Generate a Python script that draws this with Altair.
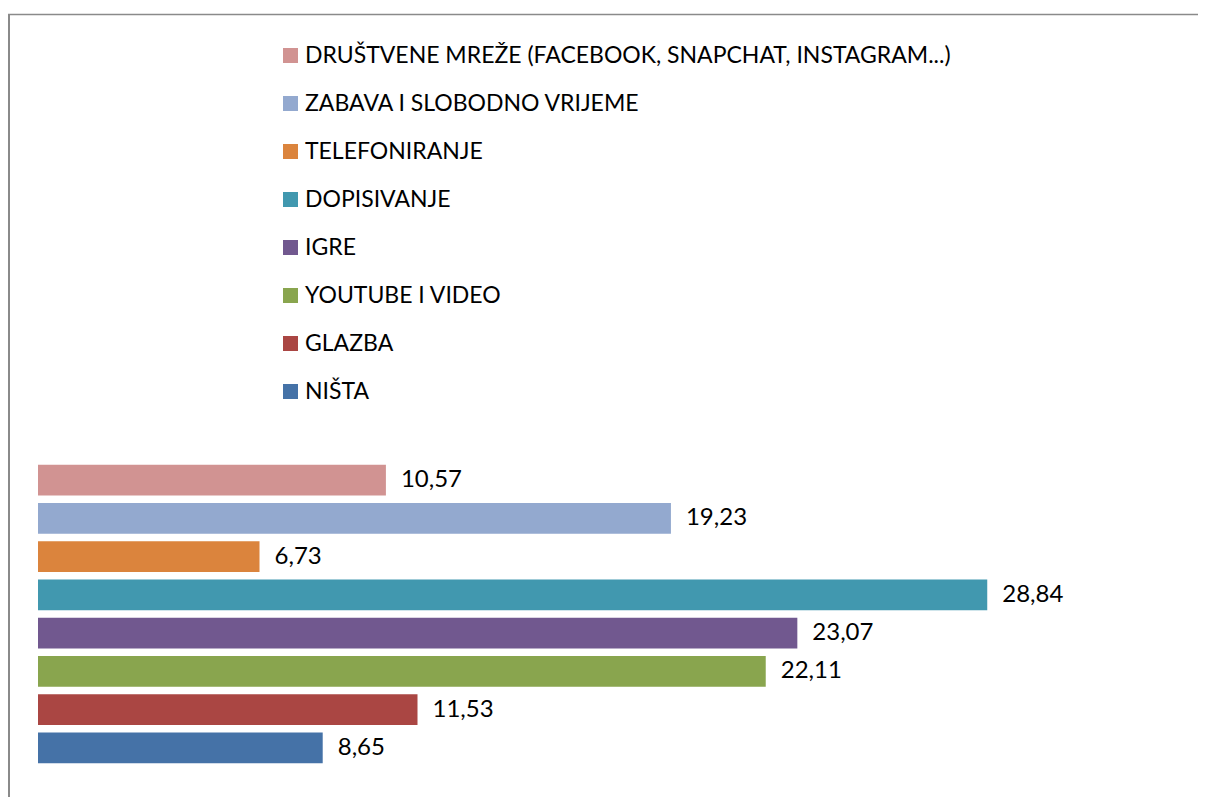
import altair as alt
import pandas as pd

categories = [
    "DRUŠTVENE MREŽE (FACEBOOK, SNAPCHAT, INSTAGRAM...)",
    "ZABAVA I SLOBODNO VRIJEME",
    "TELEFONIRANJE",
    "DOPISIVANJE",
    "IGRE",
    "YOUTUBE I VIDEO",
    "GLAZBA",
    "NIŠTA",
]
values = [10.57, 19.23, 6.73, 28.84, 23.07, 22.11, 11.53, 8.65]
colors = ["#D19392", "#93A9CF", "#DB843D", "#4198AF", "#71588F", "#89A54E", "#AA4643", "#4572A7"]

df = pd.DataFrame({"category": categories, "value": values})
df["label"] = [f"{v:.2f}".replace(".", ",") for v in values]

W = 1152
H = 306
FONT = "Lato"

x = alt.X("value:Q", scale=alt.Scale(domain=[0, 35], nice=False, zero=True), axis=None)
y = alt.Y("category:N", sort=categories,
          scale=alt.Scale(paddingInner=0.19, paddingOuter=0.095), axis=None)

bars = alt.Chart(df).mark_bar().encode(
    x=x,
    y=y,
    color=alt.Color(
        "category:N",
        scale=alt.Scale(domain=categories, range=colors),
        legend=alt.Legend(
            orient="none",
            legendX=241,
            legendY=-417,
            padding=0,
            title=None,
            direction="vertical",
            symbolType="square",
            symbolSize=225,
            symbolStrokeWidth=0,
            symbolOpacity=1,
            labelFont=FONT,
            labelFontSize=23,
            labelColor="#000000",
            labelOffset=3,
            labelLimit=2000,
            rowPadding=24,
        ),
    ),
)

text = alt.Chart(df).mark_text(
    align="left", baseline="middle", dx=15, font=FONT, fontSize=24, color="#000000"
).encode(x=x, y=y, text="label:N")

dummy = pd.DataFrame({"a": [0]})
top_line = alt.Chart(dummy).mark_rule(color="#8A8A8A", strokeWidth=1.5).encode(
    x=alt.value(-30), x2=alt.value(W + 30), y=alt.value(-446.5)
)
left_line = alt.Chart(dummy).mark_rule(color="#8A8A8A", strokeWidth=2).encode(
    x=alt.value(-29), y=alt.value(-447), y2=alt.value(H + 40)
)

chart = alt.layer(top_line, left_line, bars, text).properties(
    width=W,
    height=H,
    autosize=alt.AutoSizeParams(type="none"),
    padding={"left": 30, "top": 453, "right": 8, "bottom": 30},
    background="white",
).configure_view(stroke=None)

chart.save("out.html", embed_options={"renderer": "svg", "actions": False})
